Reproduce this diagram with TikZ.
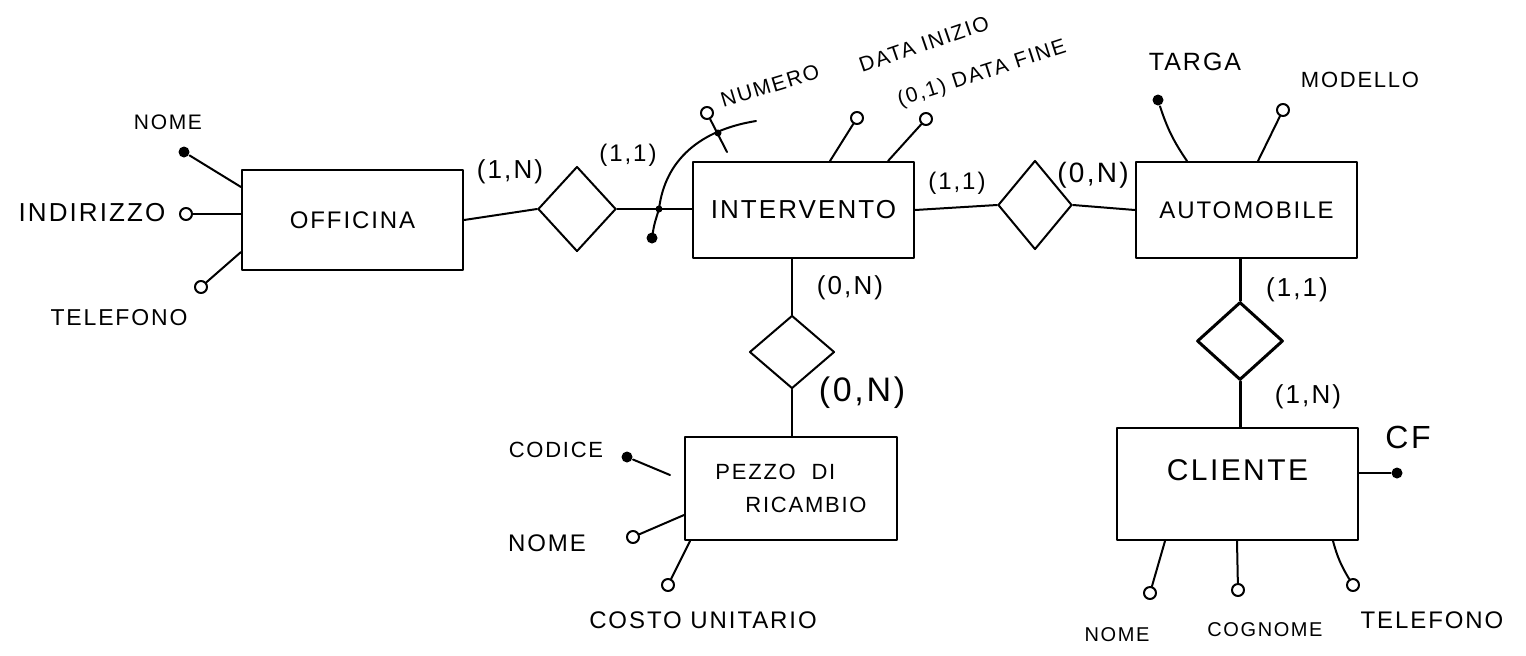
\documentclass[tikz,border=0pt]{standalone}
\usepackage{fontspec}
\setmainfont{Liberation Sans}[LetterSpace=8]
\usetikzlibrary{shapes.geometric}
\begin{document}
\begin{tikzpicture}[x=0.5pt,y=-0.5pt, line width=1pt, line cap=round, line join=round,
  ent/.style={draw, rectangle, inner sep=0pt, font=\fontsize{12}{14}\selectfont},
  rel/.style={draw, diamond, inner sep=0pt},
  attr/.style={draw, circle, fill=white, minimum size=6pt, inner sep=0pt},
  keyattr/.style={circle, fill=black, minimum size=5.5pt, inner sep=0pt},
  lbl/.style={inner sep=0pt, font=\fontsize{10.5}{12}\selectfont},
  card/.style={inner sep=0pt, font=\fontsize{13}{15}\selectfont},
  junc/.style={circle, fill=black, minimum size=3.5pt, inner sep=0pt},
  thick line/.style={line width=1.5pt}]
\useasboundingbox (0,0) rectangle (1526,655);

% entities
\node[ent, minimum width=110.5pt, minimum height=50pt] (off) at (352.5,220) {OFFICINA};
\node[ent, minimum width=110.5pt, minimum height=48pt, font=\fontsize{13}{15}\selectfont] (int) at (803.5,210) {INTERVENTO};
\node[ent, minimum width=110.5pt, minimum height=48pt] (aut) at (1246.5,210) {AUTOMOBILE};
\node[ent, minimum width=106pt, minimum height=51.5pt, align=left, font=\fontsize{11}{16.5}\selectfont] (pez) at (791,488.5) {PEZZO\ \ DI\\\hspace*{15pt}RICAMBIO};
\node[ent, minimum width=120.5pt, minimum height=56pt, text depth=14pt, font=\fontsize{15}{17}\selectfont] (cli) at (1237.5,484) {CLIENTE};

% relationships
\node[rel, minimum width=39pt, minimum height=42.5pt] (r1) at (577,209) {};
\node[rel, minimum width=37pt, minimum height=44.5pt] (r2) at (1035,205) {};
\node[rel, minimum width=42.5pt, minimum height=36.5pt] (r4) at (792,352) {};
\node[rel, thick line, minimum width=43pt, minimum height=39pt] (r3) at (1240,341) {};

% connectors
\node[junc] (jn) at (659,209) {};
\draw (off.east) -- (r1.west);
\draw (r1.east) -- (jn.center) -- (int.west |- jn);
\draw (int.east) -- (r2.west);
\draw (r2.east) -- (aut.west);
\draw (r4.north |- int.south) -- (r4.north);
\draw (r4.south) -- (r4.south |- pez.north);
\draw[thick line] (r3.north |- aut.south) -- (r3.north);
\draw[thick line] (r3.south) -- (r3.south |- cli.north);

% cardinalities
\node[card] (c1) at (510,172) {(1,N)};
\node[card, font=\fontsize{12}{14}\selectfont] (c2) at (628,155) {(1,1)};
\node[card, font=\fontsize{12}{14}\selectfont] (c3) at (957,183) {(1,1)};
\node[card, font=\fontsize{14}{16}\selectfont] (c4) at (1093,175) {(0,N)};
\node[card] (c5) at (850,288) {(0,N)};
\node[card, font=\fontsize{17}{19}\selectfont] (c6) at (862,393) {(0,N)};
\node[card] (c7) at (1297,290) {(1,1)};
\node[card] (c8) at (1308,397) {(1,N)};

% composite identifier of INTERVENTO
\node[keyattr] (idk) at (652,238) {};
\coordinate (arcend) at (756,121);
\draw (idk.center) .. controls (654,225) .. (jn.center) .. controls (665,160) and (700,130) .. (arcend);
\node[attr] (num) at (707,113) {};
\coordinate (numend) at (727,152);
\draw (num) -- (numend);
\node[junc] (numx) at (718,133) {};
\node[lbl, rotate=17] (numl) at (770,86) {NUMERO};

% INTERVENTO attributes
\node[attr] (din) at (857,118) {};
\draw (din) -- (830,0 |- int.north);
\node[lbl, rotate=19] (dinl) at (924,44) {DATA INIZIO};
\node[attr] (dfi) at (926,119) {};
\draw (dfi) -- (888,0 |- int.north);
\node[lbl, rotate=18, font=\fontsize{10.5}{12}\selectfont] (dfil) at (982,74) {(0,1) DATA\ FINE};

% OFFICINA attributes
\node[keyattr] (ono) at (184,152) {};
\draw (ono) -- (off.west |- 0,187);
\node[lbl] (onol) at (168,122) {NOME};
\node[attr] (oin) at (186,214) {};
\draw (oin) -- (off.west |- oin);
\node[lbl, font=\fontsize{13}{15}\selectfont] (oinl) at (92,213) {INDIRIZZO};
\node[attr] (ote) at (201,287) {};
\draw (ote) -- (off.west |- 0,252);
\node[lbl, font=\fontsize{11.5}{13}\selectfont] (otel) at (119,318) {TELEFONO};

% AUTOMOBILE attributes
\node[keyattr] (tar) at (1158,100) {};
\draw (tar) to[bend right=8] (1187,0 |- aut.north);
\node[lbl, font=\fontsize{12.5}{14}\selectfont] (tarl) at (1195,62) {TARGA};
\node[attr] (mod) at (1283,110) {};
\draw (mod) -- (1258,0 |- aut.north);
\node[lbl, font=\fontsize{11}{13}\selectfont] (modl) at (1360,80) {MODELLO};

% PEZZO DI RICAMBIO attributes
\node[keyattr] (pco) at (627,457) {};
\coordinate (pcoe) at (670,475);
\draw (pco) -- (pcoe);
\node[lbl, font=\fontsize{11}{13}\selectfont] (pcol) at (556,450) {CODICE};
\node[attr] (pno) at (633,537) {};
\draw (pno) -- (pez.west |- 0,515);
\node[lbl, font=\fontsize{12}{14}\selectfont] (pnol) at (547,543) {NOME};
\node[attr] (pcu) at (668,585) {};
\draw (pcu) -- (690,0 |- pez.south);
\node[lbl, font=\fontsize{12}{14}\selectfont] (pcul) at (703,620) {COSTO UNITARIO};

% CLIENTE attributes
\node[keyattr] (cf) at (1397,473) {};
\draw (cf) -- (cli.east |- cf);
\node[lbl, font=\fontsize{16}{18}\selectfont] (cfl) at (1408,437) {CF};
\node[attr] (cno) at (1150,593) {};
\draw (cno) -- (1165,0 |- cli.south);
\node[lbl, font=\fontsize{10}{12}\selectfont] (cnol) at (1117,635) {NOME};
\node[attr] (ccg) at (1238,590) {};
\draw (ccg) -- (1237,0 |- cli.south);
\node[lbl, font=\fontsize{10}{12}\selectfont] (ccgl) at (1265,630) {COGNOME};
\node[attr] (cte) at (1353,585) {};
\draw (cte) to[bend left=8] (1333,0 |- cli.south);
\node[lbl, font=\fontsize{12}{14}\selectfont] (ctel) at (1432,620) {TELEFONO};
\end{tikzpicture}
\end{document}
